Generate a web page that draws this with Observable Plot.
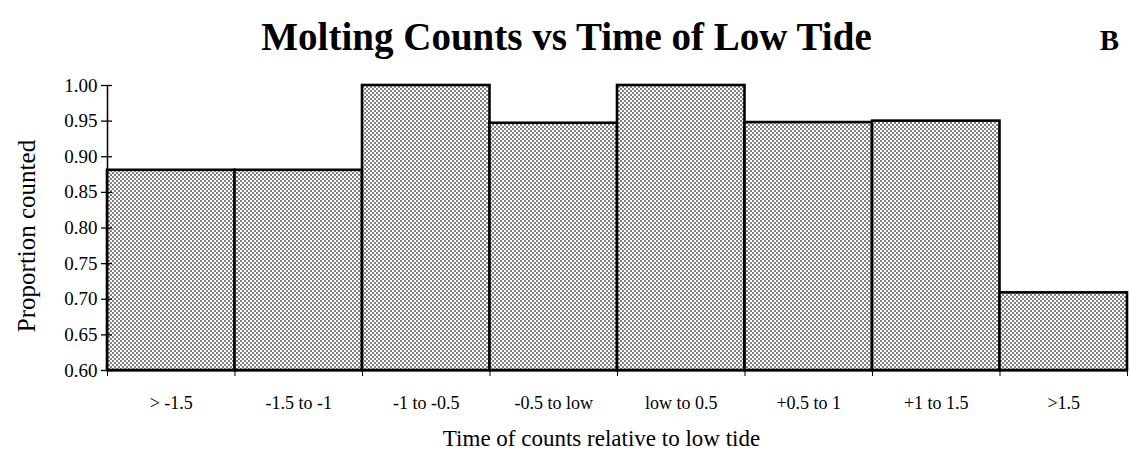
<!DOCTYPE html>
<html>
<head>
<meta charset="utf-8">
<script src="https://cdn.jsdelivr.net/npm/d3@7"></script>
<script src="https://cdn.jsdelivr.net/npm/@observablehq/plot@0.6"></script>
<style>
  html, body { margin: 0; padding: 0; background: #fff; }
  #chart { width: 1130px; height: 457px; }
  svg { font-family: "Liberation Serif", "DejaVu Serif", serif; }
</style>
</head>
<body>
<div id="chart"></div>
<script>
const categories = ["> -1.5", "-1.5 to -1", "-1 to -0.5", "-0.5 to low", "low to 0.5", "+0.5 to 1", "+1 to 1.5", ">1.5"];
const proportions = [0.881, 0.881, 1.000, 0.947, 1.000, 0.948, 0.950, 0.709];
const yTicks = [0.60, 0.65, 0.70, 0.75, 0.80, 0.85, 0.90, 0.95, 1.00];
const title = "Molting Counts vs Time of Low Tide";
const panelLabel = "B";
const xLabel = "Time of counts relative to low tide";
const yLabel = "Proportion counted";

const data = categories.map((c, i) => ({cat: c, i, value: proportions[i]}));
const boundaries = d3.range(categories.length + 1);
const centers = categories.map((c, i) => i + 0.5);

const chart = Plot.plot({
  width: 1130,
  height: 457,
  marginLeft: 107,
  marginRight: 3,
  marginTop: 85,
  marginBottom: 87,
  style: {fontFamily: "'Liberation Serif', serif", background: "#fff", color: "#000"},
  x: {type: "linear", domain: [0, categories.length], axis: null},
  y: {domain: [0.60, 1.00], axis: null},
  marks: [
    Plot.rectY(data, {x1: "i", x2: d => d.i + 1, y1: 0.60, y2: "value", fill: "url(#dots)", stroke: "#000", strokeWidth: 2.6}),
    Plot.ruleX([0], {stroke: "#000", strokeWidth: 1.5}),
    Plot.ruleY([0.60], {stroke: "#000", strokeWidth: 2}),
    Plot.axisY({ticks: yTicks, tickSize: 6, tickFormat: d3.format(".2f"), fontSize: 19, tickPadding: 4, label: null, stroke: "#000", strokeWidth: 1.3}),
    Plot.axisY({ticks: yTicks, tickSize: -5, tickFormat: () => "", label: null, stroke: "#000", strokeWidth: 1.3}),
    Plot.axisX({ticks: boundaries, tickSize: 6, tickFormat: () => "", label: null, stroke: "#000", strokeWidth: 1}),
    Plot.axisX({ticks: centers, tickSize: 0, tickPadding: 26, tickFormat: v => categories[Math.floor(v)], fontSize: 18, label: null}),
    Plot.text([xLabel], {frameAnchor: "bottom-left", textAnchor: "middle", dx: 494, dy: 75, fontSize: 23, fill: "#000"}),
    Plot.text([yLabel], {frameAnchor: "left", textAnchor: "middle", dx: -81, dy: 8, rotate: -90, fontSize: 25, fill: "#000"}),
    Plot.text([title], {frameAnchor: "top-left", textAnchor: "middle", dx: 459, dy: -63, fontSize: 39, fontWeight: "bold", fill: "#000"}),
    Plot.text([panelLabel], {frameAnchor: "top-left", textAnchor: "middle", dx: 1002, dy: -56, fontSize: 29, fontWeight: "bold", fill: "#000"})
  ]
});

const ns = "http://www.w3.org/2000/svg";
const defs = document.createElementNS(ns, "defs");
const pat = document.createElementNS(ns, "pattern");
pat.setAttribute("id", "dots");
pat.setAttribute("width", "4");
pat.setAttribute("height", "4");
pat.setAttribute("patternUnits", "userSpaceOnUse");
const bg = document.createElementNS(ns, "rect");
bg.setAttribute("width", "4"); bg.setAttribute("height", "4"); bg.setAttribute("fill", "#ffffff");
pat.appendChild(bg);
for (const [px, py] of [[0, 0], [2, 2]]) {
  const r = document.createElementNS(ns, "rect");
  r.setAttribute("x", px); r.setAttribute("y", py);
  r.setAttribute("width", "2"); r.setAttribute("height", "2");
  r.setAttribute("fill", "#808080");
  pat.appendChild(r);
}
defs.appendChild(pat);
chart.insertBefore(defs, chart.firstChild);
document.getElementById("chart").appendChild(chart);
</script>
</body>
</html>
